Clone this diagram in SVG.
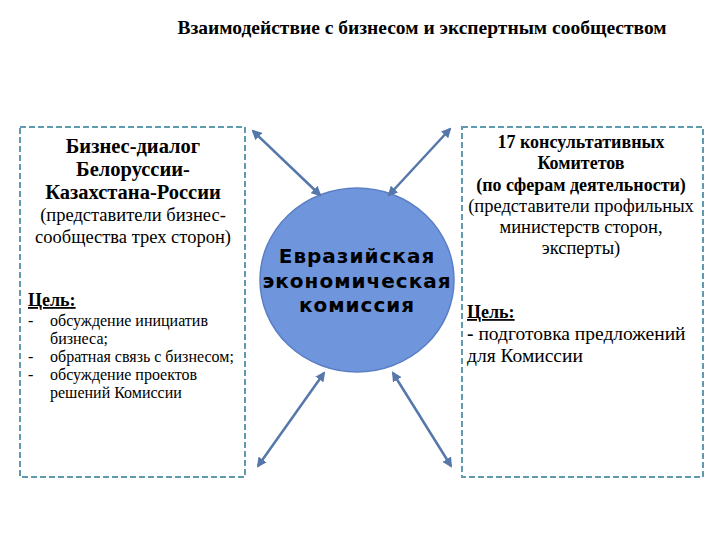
<svg xmlns="http://www.w3.org/2000/svg" width="720" height="540" viewBox="0 0 720 540">
<style>
.box{fill:#fff;stroke:#5f9aae;stroke-width:2;stroke-dasharray:6 3}
.s{font-family:'Liberation Serif','Tinos','DejaVu Serif','Noto Serif',serif;fill:#000}
.b{font-weight:bold}
.c{text-anchor:middle}
.arr{stroke:#5577aa;stroke-width:2.5;fill:none;marker-start:url(#ah);marker-end:url(#ah)}
</style>
<defs><marker id="ah" viewBox="0 0 10 10" refX="8" refY="5" markerWidth="4" markerHeight="4" orient="auto-start-reverse"><path d="M0,0L10,5L0,10z" fill="#5577aa"/></marker></defs>
<rect width="720" height="540" fill="#fff"/>
<g font-family="'Liberation Serif', 'DejaVu Serif', serif">
<text class="s b c" x="422" y="34" font-size="19.5">Взаимодействие с бизнесом и экспертным сообществом</text>
<g id="left">
<rect class="box" x="20" y="127" width="225" height="350"/>
<text class="s b c" font-size="20.5"><tspan x="133" y="153">Бизнес-диалог</tspan><tspan x="133" y="176">Белоруссии-</tspan><tspan x="133" y="199">Казахстана-России</tspan></text>
<text class="s c" font-size="18.5"><tspan x="133" y="221">(представители бизнес-</tspan><tspan x="133" y="243">сообщества трех сторон)</tspan></text>
<text class="s b" x="28" y="306" font-size="18" text-decoration="underline">Цель:</text>
<text class="s" font-size="16"><tspan x="28" y="326">-</tspan><tspan x="50" y="326">обсуждение инициатив</tspan><tspan x="50" y="344">бизнеса;</tspan><tspan x="28" y="362">-</tspan><tspan x="50" y="362">обратная связь с бизнесом;</tspan><tspan x="28" y="380">-</tspan><tspan x="50" y="380">обсуждение проектов</tspan><tspan x="50" y="398">решений Комиссии</tspan></text>
</g>
<g id="right">
<rect class="box" x="462" y="127" width="241" height="350"/>
<text class="s b c" font-size="18"><tspan x="581" y="148">17 консультативных</tspan><tspan x="581" y="169">Комитетов</tspan><tspan x="581" y="191">(по сферам деятельности)</tspan></text>
<text class="s c" font-size="18.5"><tspan x="581" y="212">(представители профильных</tspan><tspan x="581" y="233">министерств сторон,</tspan><tspan x="581" y="254">эксперты)</tspan></text>
<text class="s b" x="467" y="318" font-size="18" text-decoration="underline">Цель:</text>
<text class="s" font-size="19.5"><tspan x="467" y="340"><tspan font-weight="bold">-</tspan> подготовка предложений</tspan><tspan x="467" y="362">для Комиссии</tspan></text>
</g>
</g>
<g id="eec">
<ellipse cx="357" cy="280" rx="97" ry="92" fill="#6f95dc" stroke="#5b7fc4" stroke-width="1.5"/>
<text class="c" font-family="'DejaVu Sans',sans-serif" font-weight="bold" font-size="20" letter-spacing="1" fill="#000"><tspan x="357" y="263">Евразийская</tspan><tspan x="357" y="288">экономическая</tspan><tspan x="357" y="312">комиссия</tspan></text>
</g>
<g id="connectors">
<line class="arr" x1="253" y1="131" x2="320" y2="195"/>
<line class="arr" x1="450" y1="129" x2="389" y2="195"/>
<line class="arr" x1="324" y1="373" x2="258" y2="466"/>
<line class="arr" x1="393" y1="373" x2="451" y2="466"/>
</g>
</svg>
